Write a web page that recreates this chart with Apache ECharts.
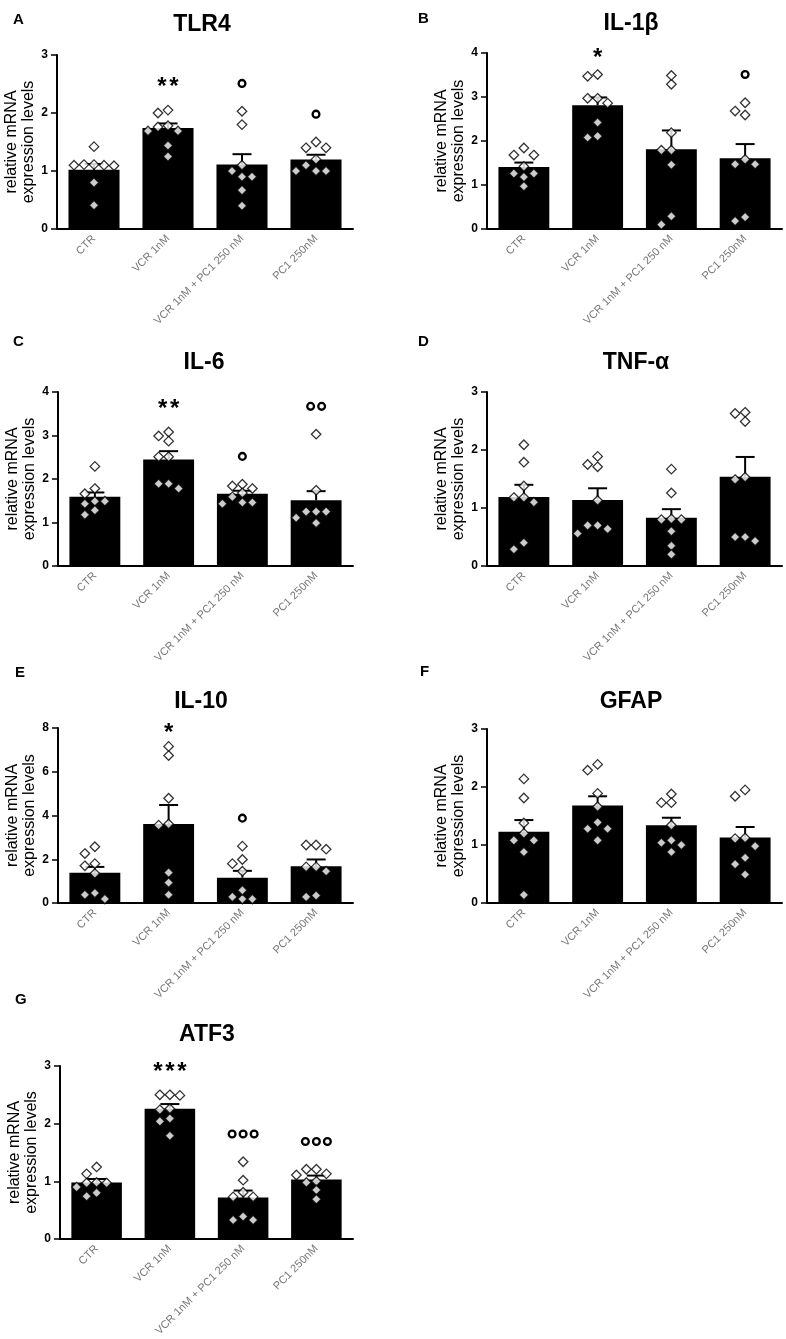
<!DOCTYPE html>
<html>
<head>
<meta charset="utf-8">
<script src="https://cdn.jsdelivr.net/npm/echarts@6/dist/echarts.min.js"></script>
<style>
  html, body { margin: 0; padding: 0; background: #fff; }
  #chart { width: 786px; height: 1339px; }
</style>
</head>
<body>
<div id="chart"></div>
<script>
const categories = ['CTR', 'VCR 1nM', 'VCR 1nM + PC1 250 nM', 'PC1 250nM']

// A - TLR4
const tlr4Mean = [1.02, 1.74, 1.11, 1.20]
const tlr4Sem = [0.10, 0.08, 0.18, 0.08]
const tlr4Ctr = [1.42, 1.11, 1.10, 1.11, 1.09, 1.10, 0.80, 0.41]
const tlr4Vcr = [2.00, 2.05, 1.78, 1.69, 1.69, 1.76, 1.44, 1.25]
const tlr4Combo = [2.03, 1.80, 1.10, 1.00, 0.90, 0.90, 0.67, 0.40]
const tlr4Pc1 = [1.40, 1.40, 1.50, 1.20, 1.00, 1.00, 1.00, 1.10]
const tlr4Sig = ['', '**', 'o', 'o']

// B - IL-1β
const il1bMean = [1.41, 2.81, 1.81, 1.61]
const il1bSem = [0.10, 0.18, 0.43, 0.32]
const il1bCtr = [1.68, 1.84, 1.68, 1.42, 1.26, 1.18, 1.26, 0.97]
const il1bVcr = [3.51, 3.47, 2.97, 2.86, 2.97, 2.42, 2.08, 2.11]
const il1bCombo = [3.29, 3.49, 2.19, 1.79, 1.79, 1.46, 0.29, 0.10]
const il1bPc1 = [2.87, 2.59, 2.68, 1.47, 1.47, 1.58, 0.18, 0.27]
const il1bSig = ['', '*', '', 'o']

// C - IL-6
const il6Mean = [1.59, 2.45, 1.66, 1.51]
const il6Sem = [0.10, 0.19, 0.07, 0.21]
const il6Ctr = [2.29, 1.78, 1.66, 1.49, 1.43, 1.49, 1.28, 1.18]
const il6Vcr = [3.08, 2.87, 2.99, 2.51, 2.51, 1.89, 1.78, 1.89]
const il6Combo = [1.84, 1.78, 1.88, 1.68, 1.43, 1.46, 1.46, 1.59]
const il6Pc1 = [3.03, 1.74, 1.25, 1.25, 1.25, 1.11, 0.99]
const il6Sig = ['', '**', 'o', 'oo']

// D - TNF-α
const tnfMean = [1.19, 1.14, 0.83, 1.54]
const tnfSem = [0.21, 0.20, 0.15, 0.34]
const tnfCtr = [2.09, 1.79, 1.38, 1.18, 1.10, 1.18, 0.29, 0.40]
const tnfVcr = [1.89, 1.71, 1.75, 1.13, 0.70, 0.56, 0.64, 0.70]
const tnfCombo = [1.67, 1.26, 0.81, 0.80, 0.80, 0.60, 0.35, 0.20]
const tnfPc1 = [2.65, 2.49, 2.63, 1.53, 1.49, 0.50, 0.43, 0.50]
const tnfSig = ['', '', '', '']

// E - IL-10
const il10Mean = [1.38, 3.61, 1.16, 1.68]
const il10Sem = [0.27, 0.87, 0.31, 0.31]
const il10Ctr = [2.26, 2.57, 1.70, 1.80, 1.35, 0.46, 0.18, 0.38]
const il10Vcr = [6.74, 7.16, 4.79, 3.56, 3.61, 1.39, 0.93, 0.38]
const il10Combo = [2.60, 1.80, 1.99, 1.45, 0.28, 0.18, 0.18, 0.58]
const il10Pc1 = [2.65, 2.46, 2.65, 1.65, 1.45, 1.65, 0.28, 0.34]
const il10Sig = ['', '*', 'o', '']

// F - GFAP
const gfapMean = [1.23, 1.68, 1.34, 1.13]
const gfapSem = [0.20, 0.16, 0.13, 0.18]
const gfapCtr = [2.14, 1.81, 1.38, 1.20, 1.08, 1.08, 0.88, 0.14]
const gfapVcr = [2.29, 2.39, 1.89, 1.66, 1.39, 1.28, 1.28, 1.08]
const gfapCombo = [1.88, 1.73, 1.73, 1.34, 1.04, 0.88, 1.00, 1.08]
const gfapPc1 = [1.95, 1.84, 1.11, 0.98, 1.12, 0.78, 0.67, 0.49]
const gfapSig = ['', '', '', '']

// G - ATF3
const atf3Mean = [0.98, 2.26, 0.72, 1.03]
const atf3Sem = [0.06, 0.08, 0.12, 0.07]
const atf3Ctr = [1.25, 1.13, 0.97, 0.90, 0.98, 0.97, 0.74, 0.80]
const atf3Vcr = [2.50, 2.49, 2.50, 2.26, 2.09, 2.04, 2.24, 1.79]
const atf3Combo = [1.34, 1.02, 0.73, 0.73, 0.81, 0.39, 0.33, 0.33]
const atf3Pc1 = [1.13, 1.21, 1.21, 1.11, 1.00, 0.98, 0.85, 0.69]
const atf3Sig = ['', '***', 'ooo', 'ooo']

const yTicksMax = [3, 4, 4, 3, 8, 3, 3]
const yTicksStep = [1, 1, 1, 1, 2, 1, 1]

const FONT = '"Liberation Sans", Arial, sans-serif'

// layout of each panel: grid box, title centre, letter position
const panels = [
  { letter: 'A', title: 'TLR4', mean: tlr4Mean, sem: tlr4Sem, pts: [tlr4Ctr, tlr4Vcr, tlr4Combo, tlr4Pc1], sig: tlr4Sig,
    box: [57, 55, 296, 174], titleAt: [202, 25], letterAt: [13, 20] },
  { letter: 'B', title: 'IL-1β', mean: il1bMean, sem: il1bSem, pts: [il1bCtr, il1bVcr, il1bCombo, il1bPc1], sig: il1bSig,
    box: [487, 53, 295, 176], titleAt: [631, 24], letterAt: [418, 19] },
  { letter: 'C', title: 'IL-6', mean: il6Mean, sem: il6Sem, pts: [il6Ctr, il6Vcr, il6Combo, il6Pc1], sig: il6Sig,
    box: [58, 392, 295, 174], titleAt: [204, 363], letterAt: [13, 342] },
  { letter: 'D', title: 'TNF-α', mean: tnfMean, sem: tnfSem, pts: [tnfCtr, tnfVcr, tnfCombo, tnfPc1], sig: tnfSig,
    box: [487, 392, 295, 174], titleAt: [636, 363], letterAt: [418, 342] },
  { letter: 'E', title: 'IL-10', mean: il10Mean, sem: il10Sem, pts: [il10Ctr, il10Vcr, il10Combo, il10Pc1], sig: il10Sig,
    box: [58, 728, 295, 175], titleAt: [201, 702], letterAt: [15, 673] },
  { letter: 'F', title: 'GFAP', mean: gfapMean, sem: gfapSem, pts: [gfapCtr, gfapVcr, gfapCombo, gfapPc1], sig: gfapSig,
    box: [487, 729, 295, 174], titleAt: [631, 702], letterAt: [420, 672] },
  { letter: 'G', title: 'ATF3', mean: atf3Mean, sem: atf3Sem, pts: [atf3Ctr, atf3Vcr, atf3Combo, atf3Pc1], sig: atf3Sig,
    box: [60, 1066, 293, 173], titleAt: [207, 1035], letterAt: [15, 1000] }
]

// simple beeswarm: spread points sideways (pixels) so the diamonds don't overlap
function swarm(values, pxPerUnit, catPx) {
  const D = 8.5, step = 10
  const placed = []
  const offs = new Array(values.length).fill(0)
  const order = values.map((v, i) => i).sort((a, b) => values[b] - values[a])
  order.forEach(i => {
    const y = values[i] * pxPerUnit
    for (let k = 0; k < 14; k++) {
      const dx = (k === 0 ? 0 : (k % 2 ? -1 : 1) * Math.ceil(k / 2)) * step
      if (placed.every(p => Math.hypot(p[0] - dx, p[1] - y) >= D)) {
        placed.push([dx, y])
        offs[i] = dx / catPx
        break
      }
    }
  })
  return offs
}

const grid = [], xAxis = [], yAxis = [], series = [], graphic = []

panels.forEach((p, i) => {
  const yMax = yTicksMax[i]
  const [left, top, width, height] = p.box
  const pxPerUnit = height / yMax
  const catPx = width / categories.length

  grid.push({ left, top, width, height, containLabel: false })

  xAxis.push({
    type: 'category',
    gridIndex: i,
    data: categories,
    axisLine: { onZero: false, lineStyle: { color: '#000', width: 2 } },
    axisTick: { alignWithLabel: true, length: 5, lineStyle: { color: '#000', width: 1.5 } },
    axisLabel: { rotate: 45, interval: 0, margin: 8, fontSize: 11, color: '#777', fontFamily: FONT },
    splitLine: { show: false }
  })
  xAxis.push({ type: 'value', gridIndex: i, min: -0.5, max: 3.5, show: false })

  yAxis.push({
    type: 'value',
    gridIndex: i,
    min: 0,
    max: yMax,
    interval: yTicksStep[i],
    name: 'relative mRNA\nexpression levels',
    nameLocation: 'middle',
    nameGap: 17,
    nameTextStyle: { fontSize: 16, color: '#000', fontFamily: FONT, lineHeight: 17 },
    axisLine: { show: true, onZero: false, lineStyle: { color: '#000', width: 2 } },
    axisTick: { show: true, length: 6, lineStyle: { color: '#000', width: 1.5 } },
    axisLabel: { fontSize: 12, fontWeight: 'bold', color: '#000', margin: 9, fontFamily: FONT },
    splitLine: { show: false }
  })

  series.push({
    type: 'bar',
    xAxisIndex: 2 * i,
    yAxisIndex: i,
    data: p.mean,
    barWidth: '69%',
    itemStyle: { color: '#000' },
    z: 2
  })

  series.push({
    type: 'custom',
    xAxisIndex: 2 * i + 1,
    yAxisIndex: i,
    data: p.mean.map((m, k) => [k, m, p.sem[k]]),
    z: 3,
    renderItem(params, api) {
      const x = api.value(0), m = api.value(1), s = api.value(2)
      const base = api.coord([x, m])
      const tip = api.coord([x, m + s])
      const st = { stroke: '#000', lineWidth: 2 }
      return {
        type: 'group',
        children: [
          { type: 'line', shape: { x1: base[0], y1: base[1], x2: tip[0], y2: tip[1] }, style: st },
          { type: 'line', shape: { x1: tip[0] - 9.5, y1: tip[1], x2: tip[0] + 9.5, y2: tip[1] }, style: st }
        ]
      }
    }
  })

  const dots = []
  p.pts.forEach((vals, k) => {
    const offs = swarm(vals, pxPerUnit, catPx)
    vals.forEach((v, j) => dots.push([k + offs[j], v]))
  })
  series.push({
    type: 'scatter',
    xAxisIndex: 2 * i + 1,
    yAxisIndex: i,
    data: dots,
    symbol: 'diamond',
    symbolSize: 9.5,
    itemStyle: { color: '#fff', borderColor: '#000', borderWidth: 1.3 },
    z: 4
  })

  const sigIdx = p.sig.map((s, k) => k).filter(k => p.sig[k])
  if (sigIdx.length) {
    const sigLabels = sigIdx.map(k => p.sig[k])
    series.push({
      type: 'custom',
      xAxisIndex: 2 * i + 1,
      yAxisIndex: i,
      z: 5,
      data: sigIdx.map(k => [k, Math.min(Math.max(...p.pts[k]) + 0.16 * yMax, yMax)]),
      renderItem(params, api) {
        const c = api.coord([api.value(0), api.value(1)])
        const label = sigLabels[params.dataIndex]
        const n = label.length
        const children = []
        for (let q = 0; q < n; q++) {
          if (label[q] === 'o') {
            const cx = c[0] + (q - (n - 1) / 2) * 11
            children.push({ type: 'circle', shape: { cx, cy: c[1], r: 3.4 }, style: { fill: 'none', stroke: '#000', lineWidth: 2.3 } })
          } else {
            const cx = c[0] + (q - (n - 1) / 2) * 12
            children.push({
              type: 'text', x: cx, y: c[1] + 5,
              style: { text: '*', fill: '#000', font: 'bold 24px ' + FONT, align: 'center', verticalAlign: 'middle', textAlign: 'center', textVerticalAlign: 'middle' }
            })
          }
        }
        return { type: 'group', children }
      }
    })
  }

  graphic.push({
    type: 'text', x: p.titleAt[0], y: p.titleAt[1],
    style: { text: p.title, fill: '#000', font: 'bold 23px ' + FONT, align: 'center', verticalAlign: 'middle', textAlign: 'center', textVerticalAlign: 'middle' }
  })
  graphic.push({
    type: 'text', x: p.letterAt[0], y: p.letterAt[1],
    style: { text: p.letter, fill: '#000', font: 'bold 15px ' + FONT, align: 'left', verticalAlign: 'middle', textAlign: 'left', textVerticalAlign: 'middle' }
  })
})

const chart = echarts.init(document.getElementById('chart'))
chart.setOption({
  animation: false,
  backgroundColor: '#fff',
  grid,
  xAxis,
  yAxis,
  series,
  graphic
})
</script>
</body>
</html>
